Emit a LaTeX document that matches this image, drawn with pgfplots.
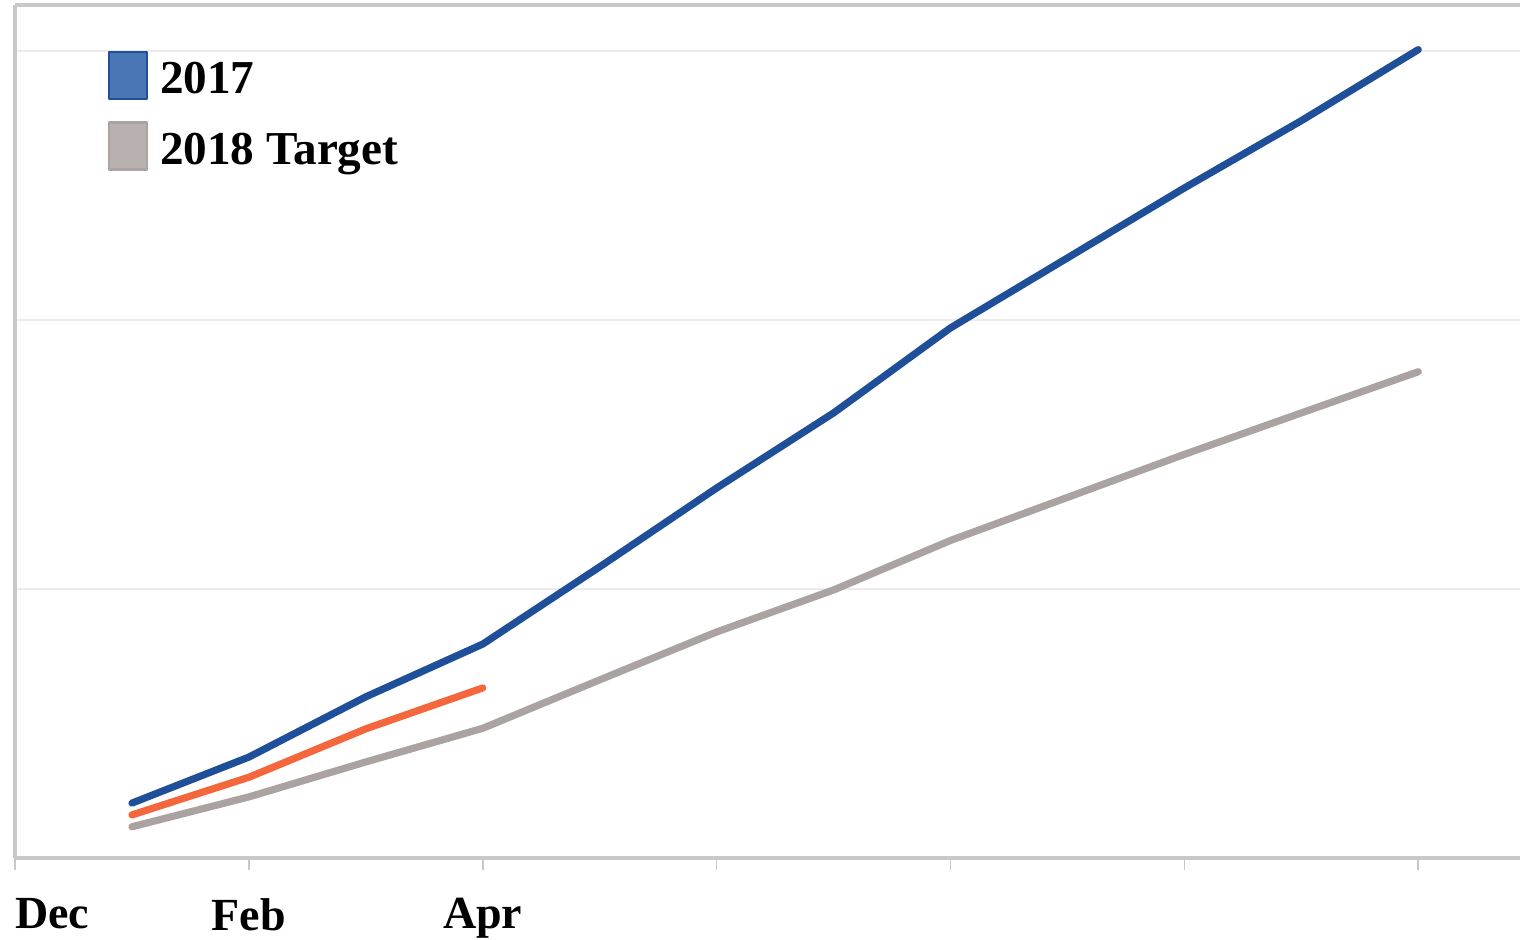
\documentclass[border=0pt]{standalone}
\usepackage{fontspec}
\setmainfont{Liberation Serif}
\usepackage{pgfplots}
\pgfplotsset{compat=1.18}

\definecolor{c_blue}{HTML}{1F4F98}
\definecolor{c_bluefill}{HTML}{4A76B6}
\definecolor{c_gray}{HTML}{ABA3A2}
\definecolor{c_grayfill}{HTML}{B9B1AF}
\definecolor{c_orange}{HTML}{F4663C}
\definecolor{c_axis}{HTML}{C8C8C8}
\definecolor{c_grid}{HTML}{EBEBEB}

\pgfplotstableread{
m  v
1  20.4
2  37.5
3  59.9
4  79.5
5  108.2
6  137.5
7  165.4
8  197
9  223
10 249
11 274
12 300.4
}\actual

\pgfplotstableread{
m  v
1  11.6
2  22.7
3  35.7
4  48.2
5  66.2
6  84
7  99.6
8  118
9  134
10 150
11 165.4
12 180.7
}\target

\pgfplotstableread{
m  v
1  16
2  30
3  48
4  63.2
}\current

\begin{document}
\begin{tikzpicture}
\path[use as bounding box] (-3.75pt,-20.5pt) rectangle (376.25pt,214.5pt);
\begin{axis}[
    at={(0,0)}, anchor=south west,
    scale only axis, width=376.25pt, height=213.25pt,
    xmin=0, xmax=12.87, ymin=0, ymax=317,
    axis x line=bottom, axis y line=left,
    axis line style={-, draw=c_axis, line width=0.9pt},
    xtick={0,2,4,6,8,10,12},
    xticklabels={\makebox[0pt][l]{Dec},Feb,Apr,,,,},
    tick align=outside,
    x tick style={draw=c_axis, line width=0.4pt},
    major tick length=3pt,
    xticklabel style={font=\bfseries\fontsize{11.5}{13}\selectfont, yshift=-3.5pt},
    ytick={100,200,300}, yticklabels={},
    y tick style={draw=none},
    ymajorgrids, grid style={draw=c_grid, line width=0.5pt},
    extra y ticks={317}, extra y tick labels={},
    extra y tick style={grid style={draw=c_axis, line width=0.9pt}},
    legend style={at={(0.061,0.947)}, anchor=north west, draw=none, fill=none,
      inner sep=0pt, row sep=5.25pt,
      font=\bfseries\fontsize{11.8}{13}\selectfont,
      nodes={inner sep=0pt, outer sep=0pt},
      /tikz/every odd column/.append style={column sep=3pt}},
    legend cell align=left,
    clip=false,
  ]
  \addplot[c_blue, line width=1.8pt, line cap=round, line join=round,
    legend image code/.code={\draw[fill=c_bluefill, draw=c_blue, line width=0.6pt] (0pt,-4.5pt) rectangle (9.5pt,7.25pt);}]
    table[x=m, y=v] {\actual};
  \addlegendentry{2017}
  \addplot[c_gray, line width=1.8pt, line cap=round, line join=round,
    legend image code/.code={\draw[fill=c_grayfill, draw=c_gray, line width=0.6pt] (0pt,-4.5pt) rectangle (9.5pt,7.25pt);}]
    table[x=m, y=v] {\target};
  \addlegendentry{2018 Target}
  \addplot[c_orange, line width=1.8pt, line cap=round, line join=round, forget plot]
    table[x=m, y=v] {\current};
\end{axis}
\end{tikzpicture}
\end{document}
